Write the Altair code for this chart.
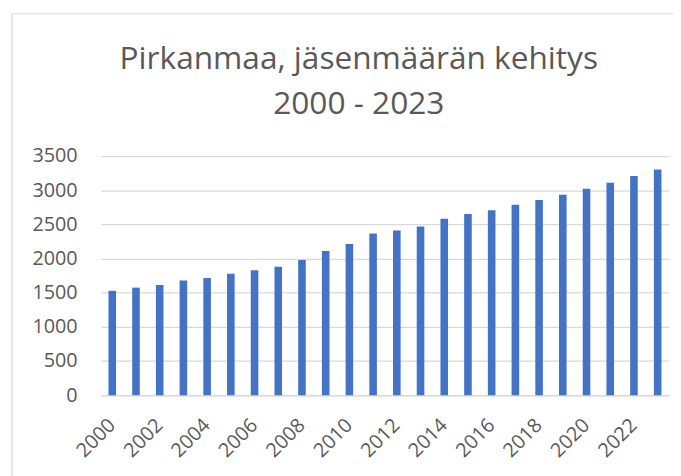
import altair as alt
import pandas as pd

years = [str(y) for y in range(2000, 2024)]
members = [1530, 1574, 1612, 1680, 1714, 1777, 1830, 1878, 1979, 2110,
           2211, 2366, 2409, 2467, 2583, 2650, 2708, 2786, 2858, 2935,
           3022, 3109, 3206, 3302]
label_years = [str(y) for y in range(2000, 2024, 2)]
y_ticks = [0, 500, 1000, 1500, 2000, 2500, 3000, 3500]
title_lines = ["Pirkanmaa, jäsenmäärän kehitys", "2000 - 2023"]

df = pd.DataFrame({"vuosi": years, "jasenet": members})

FONT = "Open Sans"
GREY = "#595959"

bars = alt.Chart(df).mark_bar(color="#4472C4").encode(
    x=alt.X("vuosi:N", sort=years,
            scale=alt.Scale(paddingInner=0.68, paddingOuter=0.32),
            axis=alt.Axis(title=None, values=label_years, labelAngle=-45,
                          labelAlign="right", labelBaseline="middle",
                          labelFont=FONT, labelFontSize=20, labelColor=GREY,
                          ticks=False, tickSize=0, labelPadding=27,
                          domainColor="#D9D9D9", domainWidth=1.5, grid=False)),
    y=alt.Y("jasenet:Q", scale=alt.Scale(domain=[0, 3500], nice=False),
            axis=alt.Axis(title=None, values=y_ticks, format="d",
                          labelFont=FONT,
                          labelFontSize=20, labelColor=GREY, ticks=False,
                          tickSize=0, labelPadding=24, domain=False,
                          gridColor="#D9D9D9", gridWidth=1.25)),
)

border = alt.Chart(alt.Data(values=[{}])).mark_rect(
    fill=None, stroke="#D9D9D9", strokeWidth=1.25
).encode(
    x=alt.value(-90), x2=alt.value(640), y=alt.value(-144), y2=alt.value(400)
)

title1 = alt.Chart(alt.Data(values=[{"t": title_lines[0]}])).mark_text(
    font=FONT, fontSize=32, color=GREY, align="center", baseline="alphabetic"
).encode(text="t:N", x=alt.value(261), y=alt.value(-88))

title2 = alt.Chart(alt.Data(values=[{"t": title_lines[1]}])).mark_text(
    font=FONT, fontSize=32, color=GREY, align="center", baseline="alphabetic"
).encode(text="t:N", x=alt.value(261), y=alt.value(-43))

chart = alt.layer(border, title1, title2, bars).properties(
    width=575, height=242,
    autosize=alt.AutoSizeParams(type="none"),
    padding={"left": 94, "top": 147, "right": 4, "bottom": 79},
).configure_view(stroke=None)

chart.save("out.html", embed_options={"renderer": "svg", "actions": False})
